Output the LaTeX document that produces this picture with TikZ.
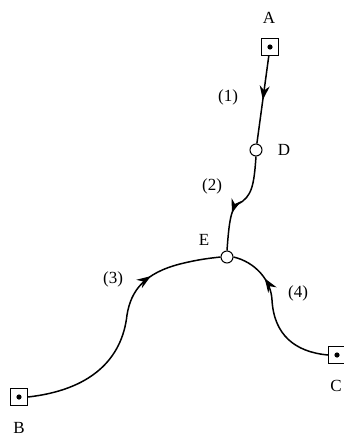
\documentclass[tikz,border=0pt]{standalone}
\usepackage{fontspec}
\setmainfont{Liberation Serif}
\usetikzlibrary{arrows.meta,decorations.markings}
\begin{document}
\begin{tikzpicture}[x=1pt,y=-1pt,
  terminal/.style={draw, line width=1pt, minimum size=17pt, inner sep=0pt, fill=white},
  junction/.style={circle, draw, line width=1pt, minimum size=12pt, inner sep=0pt, fill=white},
  flow/.style={line width=1.5pt, postaction={decorate},
    decoration={markings, mark=at position #1 with {\arrow{Stealth[length=14pt,width=10pt]}}}},
  lbl/.style={font=\fontsize{17}{19}\selectfont, inner sep=1pt}]
\useasboundingbox (0,0) rectangle (344,439);

% terminals and junctions
\node[terminal] (A) at (270,47) {};
\node[terminal] (B) at (19,397) {};
\node[terminal] (C) at (337,355) {};
\node[junction] (D) at (256,150) {};
\node[junction] (E) at (227,257) {};

% centre dots of the terminals
\foreach \t in {A,B,C} \fill (\t.center) circle (2.6pt);

% letters
\node[lbl] (tA) at (269,18) {A};
\node[lbl] (tB) at (19,428) {B};
\node[lbl] (tC) at (336,386) {C};
\node[lbl] (tD) at (284,150) {D};
\node[lbl] (tE) at (204,240) {E};

% branch numbers
\node[lbl] (n1) at (228,97) {(1)};
\node[lbl] (n2) at (212,186) {(2)};
\node[lbl] (n3) at (113,279) {(3)};
\node[lbl] (n4) at (298,293) {(4)};

% branches
\draw[flow=0.5] (A) -- (D);
\draw[flow=0.63] (D.south) .. controls (254,185) and (252,197) .. (238,204)
  .. controls (231,208) and (229,222) .. (E.north);
\draw[flow=0.72] (B.east) .. controls (90,390) and (122,360) .. (127,315)
  .. controls (131,290) and (145,273) .. (180,264)
  .. controls (200,259) and (212,258) .. (E.west);
\draw[flow=0.74] (C.west) .. controls (295,352) and (274,335) .. (272,300)
  .. controls (271,280) and (255,262) .. (E.east);
\end{tikzpicture}
\end{document}
